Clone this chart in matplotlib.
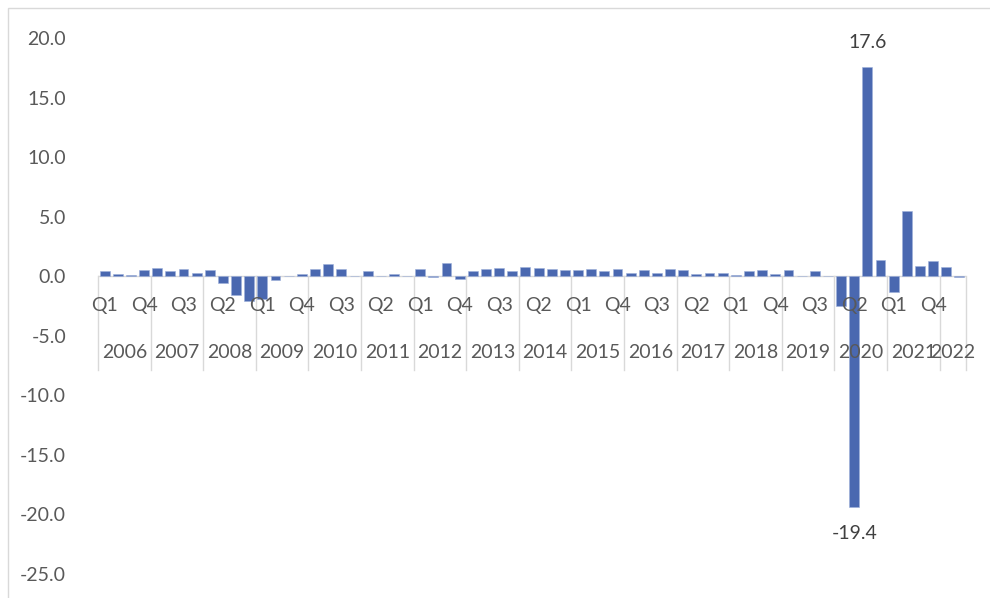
import matplotlib
matplotlib.use("Agg")
import matplotlib.pyplot as plt
from matplotlib.patches import Rectangle
import numpy as np

years = [str(y) for y in range(2006, 2023)]
quarters = ["Q1", "Q2", "Q3", "Q4"]
values = [
    0.4, 0.2, 0.1, 0.5,      # 2006
    0.7, 0.4, 0.6, 0.3,      # 2007
    0.5, -0.6, -1.6, -2.1,   # 2008
    -1.9, -0.3, 0.05, 0.2,   # 2009
    0.6, 1.0, 0.6, 0.05,     # 2010
    0.4, 0.05, 0.2, 0.05,    # 2011
    0.6, -0.1, 1.1, -0.2,    # 2012
    0.4, 0.6, 0.7, 0.4,      # 2013
    0.8, 0.7, 0.6, 0.5,      # 2014
    0.5, 0.6, 0.4, 0.6,      # 2015
    0.3, 0.5, 0.3, 0.6,      # 2016
    0.5, 0.2, 0.3, 0.3,      # 2017
    0.1, 0.4, 0.5, 0.2,      # 2018
    0.5, 0.0, 0.4, 0.0,      # 2019
    -2.5, -19.4, 17.6, 1.4,  # 2020
    -1.3, 5.5, 0.9, 1.3,     # 2021
    0.8, -0.1,               # 2022
]
labelled = {"17.6": 17.6, "-19.4": -19.4}
yticks = [20, 15, 10, 5, 0, -5, -10, -15, -20, -25]

plt.rcParams['font.family'] = ['Lato', 'DejaVu Sans']
TXT = "#595959"
GRID = "#D9D9D9"
BAR = "#4A68B0"
FS = 14

W, H = 990, 598
fig = plt.figure(figsize=(W / 100, H / 100), dpi=100)
# outer chart frame
fig.patches.append(Rectangle((8 / W, -0.1), 2, 1 - 8 / H + 0.1, transform=fig.transFigure,
                             fill=False, edgecolor=GRID, linewidth=1.0))

x0, x1 = 98, 966
ytop, ybot = 38, 574
ax = fig.add_axes([x0 / W, 1 - ybot / H, (x1 - x0) / W, (ybot - ytop) / H])
ax.set_facecolor("none")
n = len(values)
x = np.arange(n)
ax.bar(x, values, width=0.75, color=BAR, edgecolor="#9DB0DA", linewidth=0.4, zorder=3)
ax.set_xlim(-0.5, n - 0.5)
ax.set_ylim(-25, 20)
for s in ax.spines.values():
    s.set_visible(False)
ax.set_xticks([])
ax.set_yticks(yticks)
ax.set_yticklabels([f"{v:.1f}" for v in yticks], color=TXT, fontsize=FS)
ax.tick_params(axis="y", length=0, pad=23)

ppu = (ybot - ytop) / 45.0  # pixels per unit
ax.axhline(0, color=GRID, linewidth=1.0, zorder=2)
# year separators
bounds = list(range(0, n, 4)) + [n]
sep_len = 94 / ppu
for b in bounds:
    ax.plot([b - 0.5, b - 0.5], [0, -sep_len], color=GRID, linewidth=1.0, zorder=2, clip_on=False)

# quarter labels (every third)
for i in range(0, n, 3):
    ax.annotate(quarters[i % 4], xy=(i, 0), xytext=(0, -29), textcoords="offset pixels",
                ha="center", va="center", color=TXT, fontsize=FS, annotation_clip=False)
# year labels
for k, yr in enumerate(years):
    start = k * 4
    end = min(start + 4, n)
    ax.annotate(yr, xy=((start + end - 1) / 2, 0), xytext=(0, -76), textcoords="offset pixels",
                ha="center", va="center", color=TXT, fontsize=FS, annotation_clip=False)

# data labels
for lab, v in labelled.items():
    i = values.index(v)
    off = 24 if v > 0 else -26
    ax.annotate(lab, xy=(i, v), xytext=(0, off), textcoords="offset pixels",
                ha="center", va="center", color="#404040", fontsize=FS, annotation_clip=False)

fig.savefig("out.png", dpi=100)
